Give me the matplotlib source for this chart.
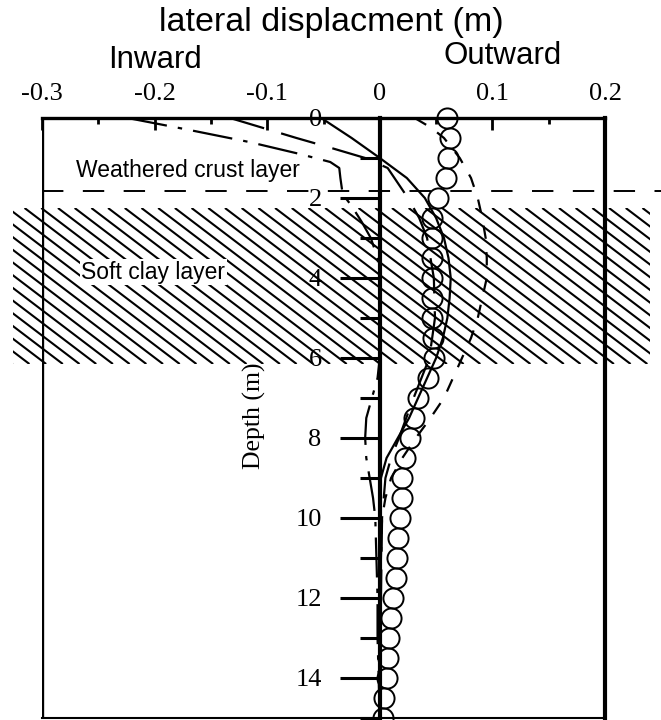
# LATERAL DISPLACEMENT PROFILE WITH DEPTH

# IMPORTING LIBRARIES
import matplotlib
matplotlib.use("Agg")
import matplotlib.pyplot as plt
import numpy as np
from matplotlib.patches import Rectangle
from matplotlib.collections import LineCollection
from matplotlib.ticker import FixedLocator, FixedFormatter

plt.rcParams['axes.unicode_minus'] = False

# MEASURED (CIRCLES)
meas_depth = [0, 0.5, 1.0, 1.5, 2.0, 2.5, 3.0, 3.5, 4.0, 4.5, 5.0, 5.5, 6.0, 6.5, 7.0, 7.5,
              8.0, 8.5, 9.0, 9.5, 10.0, 10.5, 11.0, 11.5, 12.0, 12.5, 13.0, 13.5, 14.0, 14.5, 15.0]
meas_disp = [0.060, 0.062, 0.061, 0.059, 0.052, 0.046, 0.046, 0.046, 0.046, 0.046, 0.046, 0.047,
             0.048, 0.043, 0.034, 0.030, 0.027, 0.022, 0.020, 0.020, 0.018, 0.016, 0.015, 0.014,
             0.012, 0.010, 0.008, 0.007, 0.006, 0.004, 0.003]

# SOLID CURVE
solid_depth = [0, 0.5, 1.0, 1.5, 2.0, 2.5, 3.0, 3.5, 4.0, 4.5, 5.0, 5.5, 6.0, 6.5, 7.0, 7.5,
               8.0, 8.5, 9.0, 10.0, 12.0, 14.0, 15.0]
solid_disp = [-0.052, -0.025, 0.0, 0.024, 0.040, 0.050, 0.057, 0.061, 0.063, 0.062, 0.060, 0.056,
              0.050, 0.042, 0.034, 0.026, 0.016, 0.006, 0.001, 0.0, 0.0, 0.0, 0.0]

# SHORT DASHED CURVE
dash_depth = [0, 0.25, 0.5, 1.0, 1.5, 2.0, 2.5, 3.0, 3.5, 4.0, 4.5, 5.0, 5.5, 6.0, 6.5, 7.0,
              7.5, 8.0, 8.5, 9.0, 9.5, 10.0, 11.0, 12.0, 13.0, 14.0, 15.0]
dash_disp = [0.031, 0.046, 0.057, 0.071, 0.081, 0.087, 0.091, 0.094, 0.095, 0.095, 0.091, 0.087,
             0.081, 0.073, 0.065, 0.057, 0.045, 0.032, 0.020, 0.010, 0.005, 0.002, 0.001, 0.0,
             0.0, 0.0, 0.0]

# DASH-DOT CURVE
dd_depth = [0, 0.3, 0.6, 0.9, 1.1, 1.25, 1.5, 1.9, 2.2, 2.6, 3.0, 3.5, 4.0, 5.0, 6.0, 6.5, 7.0,
            7.5, 8.0, 8.5, 9.0, 9.5, 10.0, 11.0, 12.0, 13.0, 14.0, 15.0]
dd_disp = [-0.224, -0.169, -0.116, -0.071, -0.044, -0.036, -0.035, -0.033, -0.025, -0.016,
           -0.008, -0.002, 0.0, 0.0, 0.0, -0.002, -0.007, -0.012, -0.013, -0.012, -0.009, -0.006,
           -0.004, -0.003, -0.002, -0.002, -0.001, 0.0]

# LONG DASHED CURVE
ld_depth = [0, 0.5, 0.75, 1.0, 1.25, 1.5, 2.0, 2.5, 3.0, 4.0, 5.0, 6.0, 7.0, 8.0, 8.5, 9.0,
            10.0, 12.0, 15.0]
ld_disp = [-0.133, -0.074, -0.043, -0.013, 0.007, 0.013, 0.025, 0.035, 0.042, 0.048, 0.049,
           0.044, 0.030, 0.017, 0.010, 0.005, 0.002, 0.001, 0.0]

# LAYERS
crust_base = 1.83
clay_top = 2.25
clay_base = 6.15

# AXIS TICKS
x_ticks = [-0.3, -0.2, -0.1, 0, 0.1, 0.2]
x_ticklabels = ['-0.3', '-0.2', '-0.1', '0', '0.1', '0.2']
x_minor = [-0.25, -0.15, -0.05, 0.05, 0.15]
y_ticks = [0, 2, 4, 6, 8, 10, 12, 14]
y_ticklabels = ['0', '2', '4', '6', '8', '10', '12', '14']
y_minor = [1, 3, 5, 7, 9, 11, 13, 15]

serif = 'Liberation Serif'
sans = 'Liberation Sans'

# FIGURE
fig = plt.figure(figsize=(6.61, 7.2), dpi=100)
ax = fig.add_axes([42 / 661, 2 / 720, 563 / 661, 600 / 720])
ax.set_xlim(-0.3, 0.2)
ax.set_ylim(15, 0)

# SOFT CLAY HATCHING (RUNS PAST THE FRAME)
hx0, hx1 = -0.326, 0.240
band = Rectangle((hx0, clay_top), hx1 - hx0, clay_base - clay_top, facecolor='none',
                 edgecolor='none', clip_on=False)
ax.add_patch(band)
px_x = 563 / 0.5          # pixels per unit displacement
px_y = 600 / 15.0         # pixels per metre
slope = 0.76              # hatch drop per pixel across
run = (clay_base - clay_top) * px_y / slope / px_x
starts = np.arange(hx0 - run, hx1, 16.7 / px_x)
segs = [[(s, clay_top), (s + run, clay_base)] for s in starts]
hatch = LineCollection(segs, colors='k', linewidths=1.5, zorder=1)
ax.add_collection(hatch)
hatch.set_clip_path(band)

# CRUST BOUNDARY
ax.plot([-0.3, 0.26], [crust_base, crust_base], color='k', lw=1.4,
        dashes=(11, 10), clip_on=False, zorder=2)

# CURVES
ax.plot(dd_disp, dd_depth, color='k', lw=1.6, dashes=(18, 5, 2, 5), zorder=3)
ax.plot(ld_disp, ld_depth, color='k', lw=1.6, dashes=(16, 8), zorder=3)
ax.plot(dash_disp, dash_depth, color='k', lw=1.6, dashes=(6, 6), zorder=3)
ax.plot(solid_disp, solid_depth, color='k', lw=1.6, zorder=3)
ax.plot(meas_disp, meas_depth, linestyle='none', marker='o', markersize=14.5,
        markerfacecolor='none', markeredgecolor='k', markeredgewidth=1.4, zorder=4,
        clip_on=False)

# FRAME AND DEPTH AXIS AT ZERO
ax.spines['left'].set_position(('data', 0))
ax.spines['left'].set_linewidth(3)
ax.spines['top'].set_linewidth(2.4)
ax.spines['right'].set_linewidth(3)
ax.spines['bottom'].set_linewidth(1.5)
ax.axvline(-0.3, color='k', lw=2.4, zorder=5)

ax.xaxis.tick_top()
ax.xaxis.set_major_locator(FixedLocator(x_ticks))
ax.xaxis.set_major_formatter(FixedFormatter(x_ticklabels))
ax.xaxis.set_minor_locator(FixedLocator(x_minor))
ax.tick_params(axis='x', which='major', direction='in', length=8.6, width=2.0, pad=9,
               labelsize=19, top=True, bottom=False)
ax.tick_params(axis='x', which='minor', direction='in', length=4.3, width=2.0,
               top=True, bottom=False)

ax.yaxis.set_ticks_position('left')
ax.yaxis.set_major_locator(FixedLocator(y_ticks))
ax.yaxis.set_major_formatter(FixedFormatter(y_ticklabels))
ax.yaxis.set_minor_locator(FixedLocator(y_minor))
ax.tick_params(axis='y', which='major', direction='out', length=28.8, width=2.2, pad=13,
               labelsize=19)
ax.tick_params(axis='y', which='minor', direction='out', length=14.4, width=2.2)
for lab in ax.get_xticklabels() + ax.get_yticklabels():
    lab.set_fontfamily(serif)

# LABELS
ax.text(-0.111, 7.45, 'Depth (m)', rotation=90, ha='center', va='center', fontsize=18.5,
        family=serif)
ax.text(-0.17, 1.32, 'Weathered crust layer', ha='center', va='center', fontsize=16.5,
        family=sans)
ax.text(-0.201, 3.85, 'Soft clay layer', ha='center', va='center', fontsize=16.5, family=sans,
        bbox=dict(facecolor='white', edgecolor='none', pad=1), zorder=2)

fig.text(331 / 661, 1 - 31 / 720, 'lateral displacment (m)', ha='center', va='baseline',
         fontsize=24.5, family=sans)
fig.text(155 / 661, 1 - 68 / 720, 'Inward', ha='center', va='baseline', fontsize=22.5,
         family=sans)
fig.text(503 / 661, 1 - 64 / 720, 'Outward', ha='center', va='baseline', fontsize=22.5,
         family=sans)

fig.savefig('out.png', dpi=100)
